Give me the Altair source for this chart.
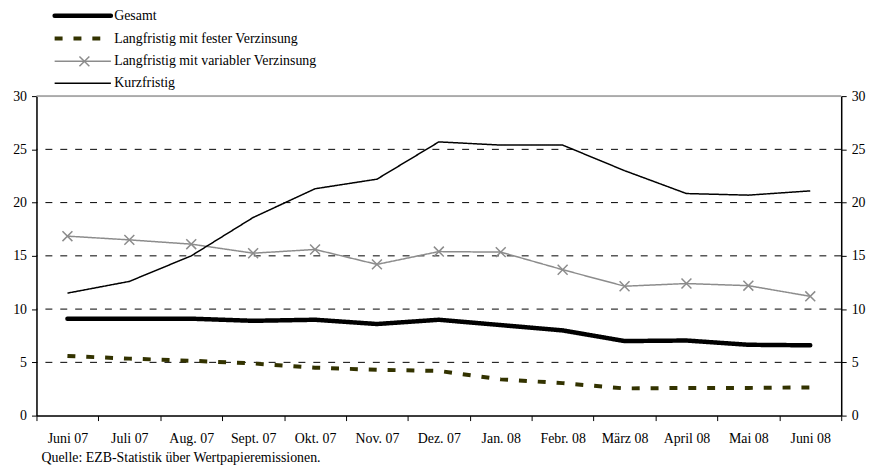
import altair as alt
import pandas as pd

months = ["Juni 07", "Juli 07", "Aug. 07", "Sept. 07", "Okt. 07", "Nov. 07", "Dez. 07",
          "Jan. 08", "Febr. 08", "März 08", "April 08", "Mai 08", "Juni 08"]
series = ["Gesamt", "Langfristig mit fester Verzinsung",
          "Langfristig mit variabler Verzinsung", "Kurzfristig"]
gesamt = [9.1, 9.1, 9.1, 8.9, 9.0, 8.6, 9.0, 8.5, 8.0, 7.0, 7.05, 6.65, 6.6]
fest = [5.6, 5.35, 5.15, 4.9, 4.5, 4.3, 4.2, 3.4, 3.05, 2.55, 2.6, 2.6, 2.65]
variabel = [16.85, 16.5, 16.1, 15.25, 15.6, 14.2, 15.4, 15.35, 13.7, 12.15, 12.4, 12.2, 11.2]
kurz = [11.5, 12.6, 15.0, 18.6, 21.3, 22.2, 25.7, 25.4, 25.4, 23.0, 20.85, 20.7, 21.1]
y_ticks = [0, 5, 10, 15, 20, 25, 30]
grid_values = [5, 10, 15, 20, 25]
top_value = [30]
source_text = "Quelle: EZB-Statistik über Wertpapieremissionen."

colors = ["#000000", "#333300", "#8c8c8c", "#000000"]
dashes = [[1, 0], [8, 11], [1, 0], [1, 0]]
widths = [4.5, 4, 1.5, 1.5]
caps = ["round", "butt", "butt", "butt"]

FONT = "'Liberation Serif', 'Times New Roman', 'DejaVu Serif', serif"
XSHAPE = "M-1,-1L1,1M1,-1L-1,1"

values = [gesamt, fest, variabel, kurz]
rows = []
for s, vals in zip(series, values):
    for m, v in zip(months, vals):
        rows.append({"Monat": m, "Serie": s, "Wert": v})
df = pd.DataFrame(rows)

yscale = alt.Scale(domain=[0, 30], nice=False, zero=True)
axis_common = dict(title=None, values=y_ticks, grid=False, tickSize=5, labelPadding=5,
                   labelFont=FONT, labelFontSize=14, labelColor="black",
                   domainColor="black", domainWidth=1.5, tickColor="black", tickWidth=1)

x_enc = alt.X("Monat:N", sort=months, bandPosition=0.5,
              scale=alt.Scale(type="band", paddingInner=0, paddingOuter=0),
              axis=alt.Axis(title=None, labelAngle=0, tickBand="extent", tickSize=5,
                            labelPadding=11, labelFont=FONT, labelFontSize=14,
                            labelColor="black", domainColor="black", domainWidth=1.5,
                            tickColor="black", tickWidth=1, grid=False))

grid = alt.Chart(pd.DataFrame({"v": grid_values})).mark_rule(
    color="black", strokeDash=[7, 8], strokeWidth=1
).encode(y=alt.Y("v:Q", scale=yscale, axis=alt.Axis(orient="left", **axis_common)))

top = alt.Chart(pd.DataFrame({"v": top_value})).mark_rule(
    color="#999999", strokeWidth=1.5
).encode(y=alt.Y("v:Q", scale=yscale, axis=alt.Axis(orient="right", **axis_common)))

line_layers = []
for i, s in enumerate(series):
    line_layers.append(
        alt.Chart(df).transform_filter(alt.datum.Serie == s).mark_line(
            color=colors[i], strokeDash=dashes[i], strokeWidth=widths[i], strokeCap=caps[i]
        ).encode(x=x_enc, y=alt.Y("Wert:Q", scale=yscale, axis=None))
    )

points = alt.Chart(df).transform_filter(alt.datum.Serie == series[2]).mark_point(
    shape=XSHAPE, filled=False, size=100, strokeWidth=1.5, color=colors[2], opacity=1
).encode(x=x_enc, y=alt.Y("Wert:Q", scale=yscale, axis=None))

legend_layers = []
legend_y = [-81, -58, -35, -13]
for i, s in enumerate(series):
    d = pd.DataFrame({"s": [s]})
    legend_layers.append(alt.Chart(d).mark_rule(
        color=colors[i], strokeDash=dashes[i], strokeWidth=widths[i], strokeCap=caps[i]
    ).encode(x=alt.value(18.3), x2=alt.value(75), y=alt.value(legend_y[i])))
    legend_layers.append(alt.Chart(d).mark_text(
        align="left", baseline="middle", font=FONT, fontSize=14, color="black"
    ).encode(x=alt.value(78.3), y=alt.value(legend_y[i]), text="s:N"))
    if i == 2:
        legend_layers.append(alt.Chart(d).mark_point(
            shape=XSHAPE, filled=False, size=100, strokeWidth=1.5, color=colors[2], opacity=1
        ).encode(x=alt.value(48.3), y=alt.value(legend_y[i])))

src = alt.Chart(pd.DataFrame({"t": [source_text]})).mark_text(
    align="left", baseline="alphabetic", font=FONT, fontSize=14, color="black"
).encode(x=alt.value(5), y=alt.value(369), text="t:N")

chart = alt.layer(grid, top, *line_layers, points, *legend_layers, src).resolve_scale(
    y="independent"
).properties(
    width=811, height=322,
    autosize=alt.AutoSizeParams(type="none"),
    padding={"left": 28.7, "top": 87, "right": 27, "bottom": 49},
).configure_view(stroke=None).configure(background="white")

chart.save("out.html", embed_options={"renderer": "svg", "actions": False})
